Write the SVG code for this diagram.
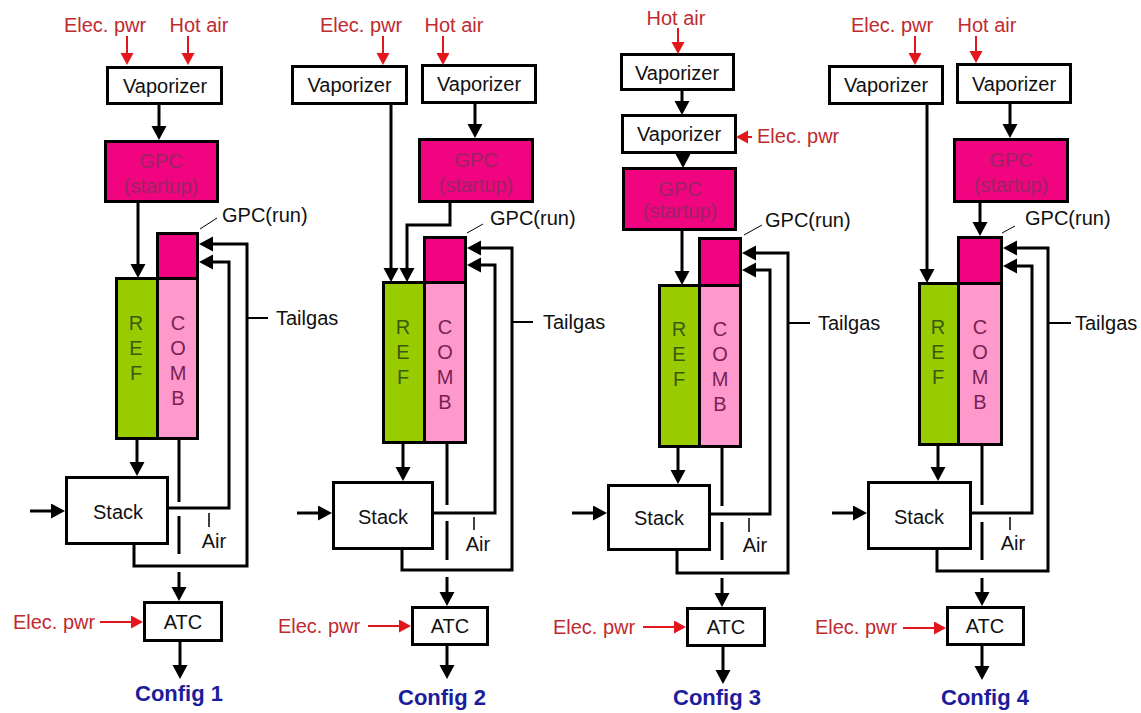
<svg xmlns="http://www.w3.org/2000/svg" width="1141" height="713" viewBox="0 0 1141 713">
<defs>
<marker id="ah" markerUnits="userSpaceOnUse" markerWidth="16" markerHeight="16" refX="9" refY="7.5" orient="auto"><path d="M0,0 L14,7.5 L0,15 Z" fill="#000"/></marker>
<marker id="rh" markerUnits="userSpaceOnUse" markerWidth="14" markerHeight="14" refX="8" refY="6.5" orient="auto"><path d="M0,0 L12,6.5 L0,13 Z" fill="#E3161B"/></marker>
<style>
text{font-family:"Liberation Sans",Arial,sans-serif;font-size:20px}
.box{fill:#fff;stroke:#000;stroke-width:3}
.gpc{fill:#F0047F;stroke:#000;stroke-width:3}
.ref{fill:#99CC00;stroke:#000;stroke-width:3}
.comb{fill:#FF99CC;stroke:#000;stroke-width:3}
.t{fill:#111;text-anchor:middle}
.tl{fill:#111}
.gt{fill:#9A2466;text-anchor:middle}
.rt{fill:#3A5A10;text-anchor:middle}
.ct{fill:#7A1F55;text-anchor:middle}
.red{fill:#C02A30}
.redm{fill:#C02A30;text-anchor:middle}
.cfg{fill:#1C1C9C;font-weight:bold;font-size:22px;text-anchor:middle}
.ln{fill:none;stroke:#000;stroke-width:3}
.ar{fill:none;stroke:#000;stroke-width:3;marker-end:url(#ah)}
.rar{fill:none;stroke:#E3161B;stroke-width:2;marker-end:url(#rh)}
.thin{fill:none;stroke:#000;stroke-width:1}
.tick{fill:none;stroke:#000;stroke-width:1.5}
.lead{fill:none;stroke:#000;stroke-width:2}
</style>
</defs>
<rect width="1141" height="713" fill="#fff"/>

<!-- ================= CONFIG 1 ================= -->
<g id="config1">
<g id="c1-vap"><rect class="box" x="107.5" y="67.5" width="114" height="36"/><text class="t" x="165" y="93">Vaporizer</text></g>
<g id="c1-gpcs"><rect class="gpc" x="105.5" y="141.5" width="112" height="60"/><text class="gt" x="161" y="168">GPC</text><text class="gt" x="161" y="193">(startup)</text></g>
<g id="c1-gpcr"><rect class="gpc" x="157.5" y="233.5" width="40" height="45"/></g>
<g id="c1-ref"><rect class="ref" x="116.5" y="278.5" width="41" height="160"/><text class="rt" x="136" y="330">R</text><text class="rt" x="136" y="355">E</text><text class="rt" x="136" y="380">F</text></g>
<g id="c1-comb"><rect class="comb" x="157.5" y="278.5" width="40" height="160"/><text class="ct" x="178" y="330">C</text><text class="ct" x="178" y="355">O</text><text class="ct" x="178" y="380">M</text><text class="ct" x="178" y="405">B</text></g>
<g id="c1-stack"><rect class="box" x="66.5" y="477.5" width="101" height="66"/><text class="t" x="118" y="519">Stack</text></g>
<g id="c1-atc"><rect class="box" x="144.5" y="602.5" width="77" height="38"/><text class="t" x="183" y="629">ATC</text></g>
<g id="c1-labels">
<text class="redm" x="105" y="32">Elec. pwr</text>
<text class="redm" x="199" y="32">Hot air</text>
<text class="tl" x="222" y="222">GPC(run)</text>
<text class="tl" x="276" y="325">Tailgas</text>
<text class="t" x="214" y="548">Air</text>
<text class="redm" x="54" y="629">Elec. pwr</text>
<text class="cfg" x="179" y="701">Config 1</text>
</g>
</g>

<!-- ================= CONFIG 2 ================= -->
<g id="config2">
<g id="c2-vapL"><rect class="box" x="292.5" y="66.5" width="114" height="37"/><text class="t" x="349.5" y="92">Vaporizer</text></g>
<g id="c2-vapR"><rect class="box" x="422.5" y="65.5" width="113" height="37"/><text class="t" x="479" y="91">Vaporizer</text></g>
<g id="c2-gpcs"><rect class="gpc" x="419.5" y="139.5" width="113" height="62"/><text class="gt" x="476" y="167">GPC</text><text class="gt" x="476" y="192">(startup)</text></g>
<g id="c2-gpcr"><rect class="gpc" x="424.5" y="237.5" width="41" height="45"/></g>
<g id="c2-ref"><rect class="ref" x="383.5" y="282.5" width="41" height="160"/><text class="rt" x="403" y="334">R</text><text class="rt" x="403" y="359">E</text><text class="rt" x="403" y="384">F</text></g>
<g id="c2-comb"><rect class="comb" x="424.5" y="282.5" width="41" height="160"/><text class="ct" x="445" y="334">C</text><text class="ct" x="445" y="359">O</text><text class="ct" x="445" y="384">M</text><text class="ct" x="445" y="409">B</text></g>
<g id="c2-stack"><rect class="box" x="333.5" y="482.5" width="99" height="66"/><text class="t" x="383" y="524">Stack</text></g>
<g id="c2-atc"><rect class="box" x="412.5" y="607.5" width="75" height="37"/><text class="t" x="450" y="633">ATC</text></g>
<g id="c2-labels">
<text class="redm" x="361" y="32">Elec. pwr</text>
<text class="redm" x="454" y="32">Hot air</text>
<text class="tl" x="490" y="225">GPC(run)</text>
<text class="tl" x="543" y="329">Tailgas</text>
<text class="t" x="478" y="551">Air</text>
<text class="redm" x="319" y="633">Elec. pwr</text>
<text class="cfg" x="442" y="705">Config 2</text>
</g>
</g>

<!-- ================= CONFIG 3 ================= -->
<g id="config3">
<g id="c3-vap1"><rect class="box" x="621.5" y="54.5" width="112" height="35"/><text class="t" x="677" y="80">Vaporizer</text></g>
<g id="c3-vap2"><rect class="box" x="622.5" y="115.5" width="113" height="37"/><text class="t" x="679" y="141">Vaporizer</text></g>
<g id="c3-gpcs"><rect class="gpc" x="623.5" y="168.5" width="112" height="61"/><text class="gt" x="680" y="196">GPC</text><text class="gt" x="680" y="218">(startup)</text></g>
<g id="c3-gpcr"><rect class="gpc" x="699.5" y="238.5" width="41" height="47"/></g>
<g id="c3-ref"><rect class="ref" x="659.5" y="285.5" width="40" height="161"/><text class="rt" x="679" y="336">R</text><text class="rt" x="679" y="361">E</text><text class="rt" x="679" y="386">F</text></g>
<g id="c3-comb"><rect class="comb" x="699.5" y="285.5" width="41" height="161"/><text class="ct" x="720" y="336">C</text><text class="ct" x="720" y="361">O</text><text class="ct" x="720" y="386">M</text><text class="ct" x="720" y="411">B</text></g>
<g id="c3-stack"><rect class="box" x="608.5" y="485.5" width="101" height="64"/><text class="t" x="659" y="525">Stack</text></g>
<g id="c3-atc"><rect class="box" x="687.5" y="608.5" width="77" height="37"/><text class="t" x="726" y="634">ATC</text></g>
<g id="c3-labels">
<text class="redm" x="676" y="25">Hot air</text>
<text class="red" x="757" y="143">Elec. pwr</text>
<text class="tl" x="765" y="227">GPC(run)</text>
<text class="tl" x="818" y="330">Tailgas</text>
<text class="t" x="755" y="552">Air</text>
<text class="redm" x="594" y="634">Elec. pwr</text>
<text class="cfg" x="717" y="705">Config 3</text>
</g>
</g>

<!-- ================= CONFIG 4 ================= -->
<g id="config4">
<g id="c4-vapL"><rect class="box" x="829.5" y="66.5" width="113" height="37"/><text class="t" x="886" y="92">Vaporizer</text></g>
<g id="c4-vapR"><rect class="box" x="957.5" y="64.5" width="113" height="38"/><text class="t" x="1014" y="91">Vaporizer</text></g>
<g id="c4-gpcs"><rect class="gpc" x="954.5" y="139.5" width="113" height="62"/><text class="gt" x="1011" y="167">GPC</text><text class="gt" x="1011" y="192">(startup)</text></g>
<g id="c4-gpcr"><rect class="gpc" x="958.5" y="237.5" width="43" height="46"/></g>
<g id="c4-ref"><rect class="ref" x="919.5" y="283.5" width="39" height="161"/><text class="rt" x="938" y="334">R</text><text class="rt" x="938" y="359">E</text><text class="rt" x="938" y="384">F</text></g>
<g id="c4-comb"><rect class="comb" x="958.5" y="283.5" width="43" height="161"/><text class="ct" x="980" y="334">C</text><text class="ct" x="980" y="359">O</text><text class="ct" x="980" y="384">M</text><text class="ct" x="980" y="409">B</text></g>
<g id="c4-stack"><rect class="box" x="868.5" y="482.5" width="102" height="66"/><text class="t" x="919" y="524">Stack</text></g>
<g id="c4-atc"><rect class="box" x="947.5" y="607.5" width="76" height="37"/><text class="t" x="985" y="633">ATC</text></g>
<g id="c4-labels">
<text class="redm" x="892" y="32">Elec. pwr</text>
<text class="redm" x="987" y="32">Hot air</text>
<text class="tl" x="1025" y="225">GPC(run)</text>
<text class="tl" x="1075" y="330">Tailgas</text>
<text class="t" x="1013" y="550">Air</text>
<text class="redm" x="856" y="634">Elec. pwr</text>
<text class="cfg" x="985" y="705">Config 4</text>
</g>
</g>

<!-- ================= CONNECTORS ================= -->
<g id="connectors">
<!-- config 1 -->
<path class="rar" d="M127,36 V61"/>
<path class="rar" d="M188,36 V61"/>
<path class="ar" d="M159,104 V135"/>
<path class="ar" d="M138,202 V273"/>
<path class="ar" d="M134,544 V566 H247 V244 H204"/>
<path class="ar" d="M168,508 H229 V262 H204"/>
<path class="lead" d="M247,318 H268"/>
<path class="thin" d="M200,229 L217,218"/>
<path class="ar" d="M137,439 V471"/>
<path class="ar" d="M30,511 H60"/>
<path class="ln" d="M179,439 V502 M179,516 V554"/>
<path class="ar" d="M179,572 V596"/>
<path class="tick" d="M209,513 V527"/>
<path class="rar" d="M100,622 H139"/>
<path class="ar" d="M180,641 V674"/>

<!-- config 2 -->
<path class="rar" d="M383,36 V61"/>
<path class="rar" d="M443,36 V61"/>
<path class="ar" d="M475,103 V133"/>
<path class="ar" d="M391,104 V277"/>
<path class="ar" d="M450,202 V225 H407 V277"/>
<path class="ar" d="M402,549 V570 H512 V248 H472"/>
<path class="ar" d="M433,513 H495 V265 H472"/>
<path class="lead" d="M512,322 H533"/>
<path class="thin" d="M467,233 L483,224"/>
<path class="ar" d="M403,443 V476"/>
<path class="ar" d="M297,513 H327"/>
<path class="ln" d="M447,443 V505 M447,521 V560"/>
<path class="ar" d="M447,577 V601"/>
<path class="tick" d="M474,517 V530"/>
<path class="rar" d="M368,626 H407"/>
<path class="ar" d="M447,645 V674"/>

<!-- config 3 -->
<path class="rar" d="M678,28 V50"/>
<path class="ar" d="M682,90 V110"/>
<path class="rar" d="M752,137 H740"/>
<path class="ar" d="M683,153 V163"/>
<path class="ar" d="M682,230 V280"/>
<path class="ar" d="M677,550 V573 H788 V253 H747"/>
<path class="ar" d="M710,514 H770 V270 H747"/>
<path class="lead" d="M788,323 H810"/>
<path class="thin" d="M744,235 L762,225"/>
<path class="ar" d="M678,447 V479"/>
<path class="ar" d="M572,513 H602"/>
<path class="ln" d="M722,447 V506 M722,522 V560"/>
<path class="ar" d="M722,578 V602"/>
<path class="tick" d="M749,518 V532"/>
<path class="rar" d="M643,627 H682"/>
<path class="ar" d="M723,646 V679"/>

<!-- config 4 -->
<path class="rar" d="M915,36 V61"/>
<path class="rar" d="M976,36 V59"/>
<path class="ar" d="M1010,103 V133"/>
<path class="ar" d="M980,202 V231"/>
<path class="ar" d="M927,104 V278"/>
<path class="ar" d="M937,549 V571 H1048 V248 H1008"/>
<path class="ar" d="M971,513 H1032 V266 H1008"/>
<path class="lead" d="M1048,323 H1071"/>
<path class="thin" d="M1002,233 L1015,226"/>
<path class="ar" d="M938,445 V476"/>
<path class="ar" d="M832,513 H862"/>
<path class="ln" d="M982,445 V505 M982,522 V560"/>
<path class="ar" d="M982,578 V601"/>
<path class="tick" d="M1010,517 V530"/>
<path class="rar" d="M903,628 H942"/>
<path class="ar" d="M982,645 V675"/>
</g>
</svg>
